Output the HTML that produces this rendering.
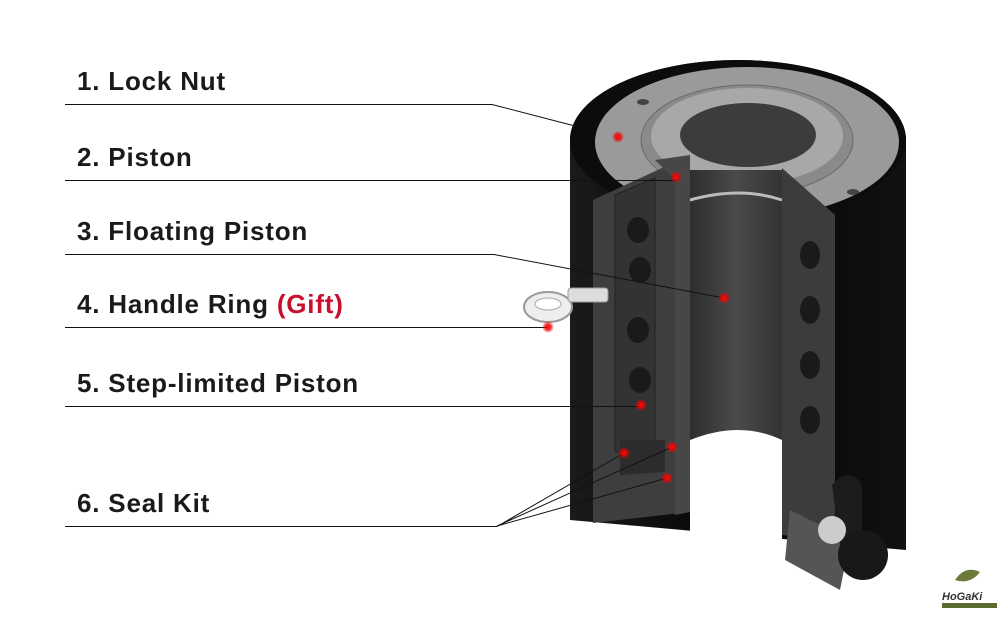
<!DOCTYPE html>
<html><head><meta charset="utf-8"><style>
html,body{margin:0;padding:0;background:#fff;width:1000px;height:618px;overflow:hidden}
svg{display:block}
text{font-family:"Liberation Sans",Arial,sans-serif;font-weight:bold;font-size:26px;letter-spacing:0.8px;fill:#1a1a1a}
</style></head><body>
<svg width="1000" height="618" viewBox="0 0 1000 618">
<defs>
<linearGradient id="bg" x1="0" x2="1"><stop offset="0" stop-color="#1a1a1a"/><stop offset="0.5" stop-color="#050505"/><stop offset="1" stop-color="#111"/></linearGradient>
<linearGradient id="bore" x1="0" x2="1"><stop offset="0" stop-color="#2e2e2e"/><stop offset="0.5" stop-color="#4a4a4a"/><stop offset="1" stop-color="#333"/></linearGradient>
<radialGradient id="rd"><stop offset="0" stop-color="#ff1010"/><stop offset="0.5" stop-color="#e00" stop-opacity="0.8"/><stop offset="1" stop-color="#f00" stop-opacity="0"/></radialGradient>
</defs>
<!-- body -->
<path d="M570 140 A168 80 0 0 1 906 140 L906 550 L570 520 Z" fill="url(#bg)"/>
<ellipse cx="738" cy="140" rx="168" ry="80" fill="#0c0c0c"/>
<!-- gray ring -->
<ellipse cx="747" cy="142" rx="152" ry="75" fill="#9a9a9a"/>
<ellipse cx="747" cy="140" rx="106" ry="55" fill="#8a8a8a" stroke="#6a6a6a"/>
<ellipse cx="747" cy="136" rx="96" ry="48" fill="#a8a8a8"/>
<ellipse cx="748" cy="135" rx="68" ry="32" fill="#3c3c3c"/>
<ellipse cx="643" cy="102" rx="6" ry="3" fill="#444"/>
<ellipse cx="853" cy="192" rx="6" ry="3" fill="#444"/>
<!-- bore interior -->
<path d="M690 170 L782 170 L782 440 Q740 420 690 440 Z" fill="url(#bore)"/>
<path d="M690 200 Q740 186 782 200" stroke="#bbb" stroke-width="3" fill="none"/>
<path d="M690 440 Q740 420 782 440 L782 560 L690 560 Z" fill="#fff"/>
<!-- left section face -->
<path d="M593 200 L690 155 L690 512 L593 523 Z" fill="#3e3e3e"/>
<path d="M615 195 L655 178 L655 450 L615 452 Z" fill="#333" stroke="#222"/>
<path d="M655 160 L690 155 L690 512 L675 515 L675 180 Z" fill="#474747"/>
<g fill="#1a1a1a">
<ellipse cx="638" cy="230" rx="11" ry="13"/><ellipse cx="640" cy="270" rx="11" ry="13"/>
<ellipse cx="638" cy="330" rx="11" ry="13"/><ellipse cx="640" cy="380" rx="11" ry="13"/>
</g>
<path d="M620 440 L665 440 L665 472 L620 475 Z" fill="#2c2c2c"/>
<!-- right section face -->
<path d="M782 168 L835 215 L835 540 L782 535 Z" fill="#3c3c3c"/>
<g fill="#1a1a1a">
<ellipse cx="810" cy="255" rx="10" ry="14"/><ellipse cx="810" cy="310" rx="10" ry="14"/>
<ellipse cx="810" cy="365" rx="10" ry="14"/><ellipse cx="810" cy="420" rx="10" ry="14"/>
</g>
<!-- bottom right fitting -->
<path d="M790 510 L850 540 L840 590 L785 560 Z" fill="#555"/>
<path d="M832 485 Q850 465 862 485 L862 545 L840 545 Z" fill="#1c1c1c"/>
<ellipse cx="832" cy="530" rx="14" ry="14" fill="#ccc"/>
<circle cx="863" cy="555" r="25" fill="#181818"/>
<!-- handle ring -->
<ellipse cx="548" cy="307" rx="24" ry="15" fill="#eee" stroke="#999" stroke-width="2"/>
<ellipse cx="548" cy="304" rx="13" ry="6" fill="#fff" stroke="#aaa"/>
<rect x="568" y="288" width="40" height="14" rx="3" fill="#ddd" stroke="#999"/>
<!-- lines -->
<g stroke="#111" stroke-width="1" fill="none">
<path d="M65 104.5 H492 L575 126"/>
<path d="M65 180.5 H676"/>
<path d="M65 254.5 H494 L724 298"/>
<path d="M65 327.5 H548"/>
<path d="M65 406.5 H641"/>
<path d="M65 526.5 H497 L624 453 M497 526 L672 447 M497 526 L667 478"/>
</g>
<g fill="url(#rd)">
<circle cx="618" cy="137" r="6"/><circle cx="676" cy="177" r="6"/><circle cx="724" cy="298" r="6"/>
<circle cx="548" cy="327" r="6"/><circle cx="641" cy="405" r="6"/><circle cx="624" cy="453" r="6"/>
<circle cx="672" cy="447" r="6"/><circle cx="667" cy="478" r="6"/>
</g>
<text x="77" y="90">1. Lock Nut</text>
<text x="77" y="166">2. Piston</text>
<text x="77" y="240">3. Floating Piston</text>
<text x="77" y="313">4. Handle Ring <tspan fill="#c8102e">(Gift)</tspan></text>
<text x="77" y="392">5. Step-limited Piston</text>
<text x="77" y="512">6. Seal Kit</text>
<!-- logo -->
<path d="M955 580 Q965 565 980 572 Q970 585 955 580 Z" fill="#6b7a3a"/>
<text x="942" y="600" style="font-size:11px;letter-spacing:0;font-style:italic;fill:#333">HoGaKi</text>
<rect x="942" y="603" width="55" height="5" fill="#5a6a30"/>
</svg>
</body></html>
